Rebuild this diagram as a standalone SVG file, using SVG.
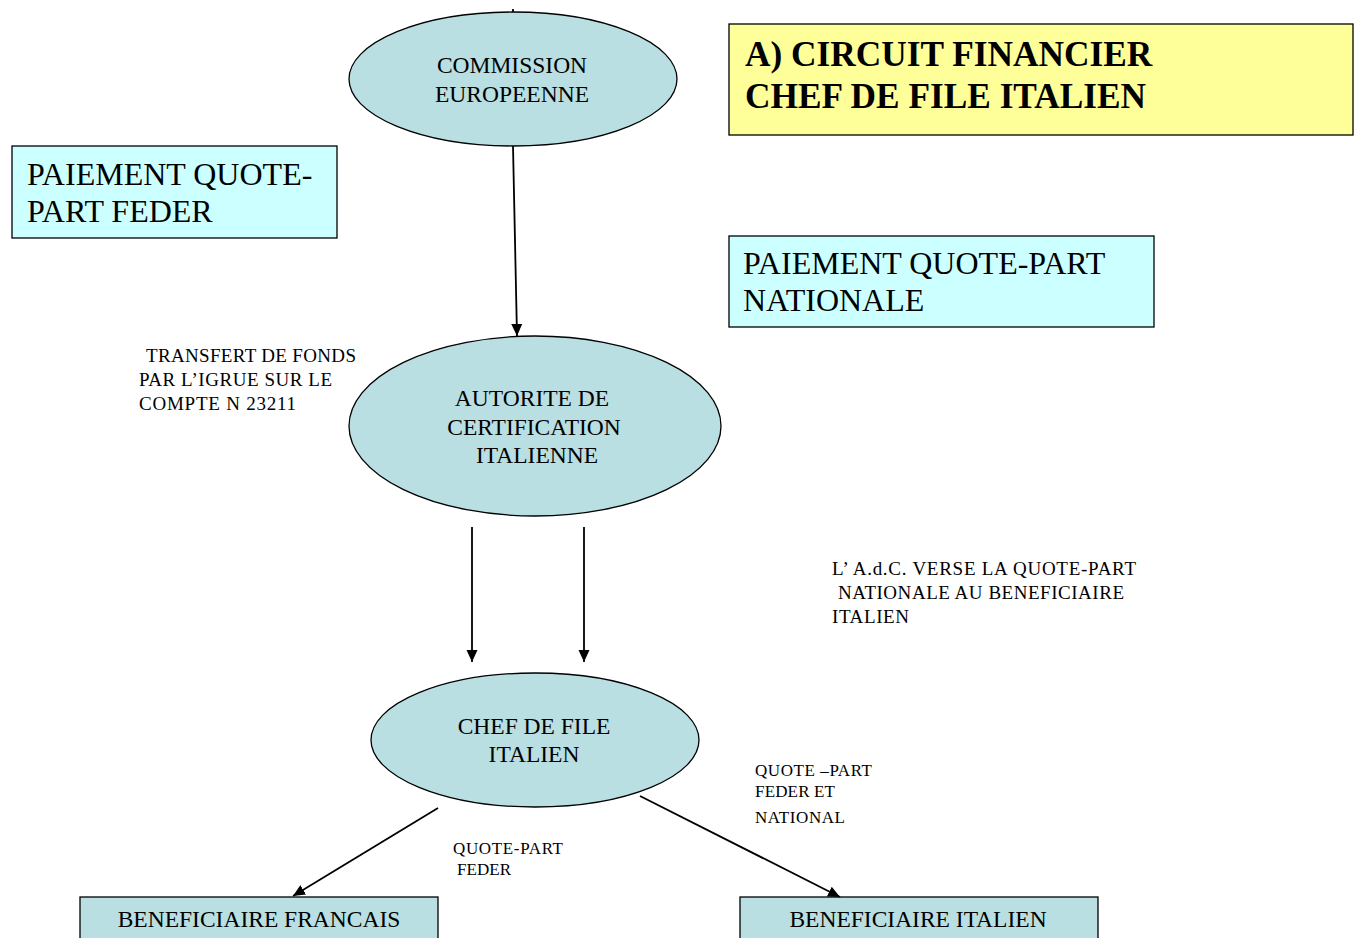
<svg xmlns="http://www.w3.org/2000/svg" width="1354" height="938" viewBox="0 0 1354 938">
<style>
.ell{fill:#B9DFE2;stroke:#000;stroke-width:1.3}
.box{stroke:#000;stroke-width:1.3}
.t{font-family:"Liberation Serif","Times New Roman",serif;fill:#000}
.n{font-size:23.5px;text-anchor:middle}
.big{font-size:32px}
.sm{font-size:19px}
.xs{font-size:17px}
.conn line{stroke:#000;stroke-width:1.8;fill:none}
</style>
<defs>
<marker id="ah" markerUnits="userSpaceOnUse" markerWidth="14" markerHeight="14" viewBox="0 0 14 14" refX="12" refY="7" orient="auto">
<path d="M0,1.5 L12,7 L0,12.5 Z" fill="#000"/>
</marker>
</defs>
<rect width="1354" height="938" fill="#fff"/>

<g id="title">
<rect class="box" x="729" y="24" width="624" height="111" fill="#FFFF99"/>
<text class="t" x="745" y="66" font-size="35.3" font-weight="bold">A) CIRCUIT FINANCIER</text>
<text class="t" x="745" y="108" font-size="35.3" font-weight="bold">CHEF DE FILE ITALIEN</text>
</g>

<g id="paiement-feder">
<rect class="box" x="12" y="146" width="325" height="92" fill="#CCFFFF"/>
<text class="t big" x="27" y="185">PAIEMENT QUOTE-</text>
<text class="t big" x="27" y="222">PART FEDER</text>
</g>

<g id="paiement-nationale">
<rect class="box" x="729" y="236" width="425" height="91" fill="#CCFFFF"/>
<text class="t big" x="743" y="274">PAIEMENT QUOTE-PART</text>
<text class="t big" x="743" y="311">NATIONALE</text>
</g>

<g id="commission">
<ellipse class="ell" cx="513" cy="79" rx="164" ry="67"/>
<text class="t n" x="512" y="73">COMMISSION</text>
<text class="t n" x="512" y="102">EUROPEENNE</text>
</g>

<g id="autorite">
<ellipse class="ell" cx="535" cy="426" rx="186" ry="90"/>
<text class="t n" x="532" y="406">AUTORITE DE</text>
<text class="t n" x="534" y="435">CERTIFICATION</text>
<text class="t n" x="537" y="463">ITALIENNE</text>
</g>

<g id="chef">
<ellipse class="ell" cx="535" cy="740" rx="164" ry="67"/>
<text class="t n" x="534" y="734">CHEF DE FILE</text>
<text class="t n" x="534" y="762">ITALIEN</text>
</g>

<g id="benef-fr">
<rect class="box" x="80" y="897" width="358" height="50" fill="#B9DFE2"/>
<text class="t n" x="259" y="927">BENEFICIAIRE FRANCAIS</text>
</g>

<g id="benef-it">
<rect class="box" x="740" y="897" width="358" height="50" fill="#B9DFE2"/>
<text class="t n" x="918" y="927">BENEFICIAIRE ITALIEN</text>
</g>

<g id="labels">
<text class="t sm" x="146" y="362" textLength="210">TRANSFERT DE FONDS</text>
<text class="t sm" x="139" y="386" textLength="193">PAR L’IGRUE SUR LE</text>
<text class="t sm" x="139" y="410" textLength="157">COMPTE  N 23211</text>
<text class="t sm" x="832" y="575" textLength="304">L’ A.d.C. VERSE LA QUOTE-PART</text>
<text class="t sm" x="838" y="599" textLength="286">NATIONALE AU BENEFICIAIRE</text>
<text class="t sm" x="832" y="623" textLength="77">ITALIEN</text>
<text class="t xs" x="755" y="776" textLength="117">QUOTE –PART</text>
<text class="t xs" x="755" y="797" textLength="80">FEDER ET</text>
<text class="t xs" x="755" y="823" textLength="90">NATIONAL</text>
<text class="t xs" x="453" y="854" textLength="110">QUOTE-PART</text>
<text class="t xs" x="457" y="875" textLength="54">FEDER</text>
</g>

<g id="connectors" class="conn">
<line x1="513" y1="9" x2="513" y2="12"/>
<line x1="513" y1="146" x2="517" y2="336" marker-end="url(#ah)"/>
<line x1="472" y1="527" x2="472" y2="662" marker-end="url(#ah)"/>
<line x1="584" y1="527" x2="584" y2="662" marker-end="url(#ah)"/>
<line x1="438" y1="808" x2="293" y2="896" marker-end="url(#ah)"/>
<line x1="640" y1="796" x2="840" y2="897" marker-end="url(#ah)"/>
</g>
</svg>
